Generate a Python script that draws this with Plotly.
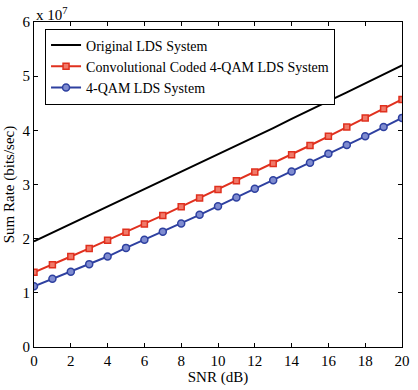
import plotly.graph_objects as go

snr = list(range(0, 21))
original = [1.95, 2.11, 2.27, 2.43, 2.59, 2.75, 2.91, 3.07, 3.23, 3.39, 3.55,
            3.71, 3.87, 4.04, 4.21, 4.38, 4.54, 4.70, 4.87, 5.04, 5.20]
conv_coded = [1.38, 1.52, 1.67, 1.82, 1.97, 2.12, 2.27, 2.43, 2.59, 2.75, 2.91,
              3.07, 3.23, 3.39, 3.55, 3.72, 3.89, 4.06, 4.23, 4.40, 4.57]
qam = [1.12, 1.26, 1.39, 1.53, 1.67, 1.83, 1.98, 2.13, 2.28, 2.44, 2.60,
       2.76, 2.92, 3.08, 3.24, 3.40, 3.57, 3.73, 3.89, 4.06, 4.23]
names = ["Original LDS System", "Convolutional Coded 4-QAM LDS System", "4-QAM LDS System"]
x_ticks = list(range(0, 21, 2))
y_ticks = list(range(0, 7))

font = "Liberation Serif"

fig = go.Figure()
fig.add_trace(go.Scatter(x=snr, y=original, mode="lines", name=names[0],
                         line=dict(color="black", width=2)))
fig.add_trace(go.Scatter(x=snr, y=conv_coded, mode="lines+markers", name=names[1],
                         line=dict(color="#e0301e", width=2),
                         marker=dict(symbol="square", size=6, color="#f07a6a",
                                     line=dict(color="#e0301e", width=1.5))))
fig.add_trace(go.Scatter(x=snr, y=qam, mode="lines+markers", name=names[2],
                         line=dict(color="#2e40a0", width=2),
                         marker=dict(symbol="circle", size=7, color="#7f8cd0",
                                     line=dict(color="#2e40a0", width=1.5))))

axis_common = dict(showline=True, linecolor="black", linewidth=1, mirror="ticks",
                   ticks="inside", ticklen=4, tickcolor="black", showgrid=False,
                   zeroline=False, tickfont=dict(family=font, size=15, color="black"))

fig.update_layout(
    width=418, height=390,
    margin=dict(l=34, r=8, t=22, b=38),
    paper_bgcolor="white", plot_bgcolor="white",
    font=dict(family=font, size=15, color="black"),
    showlegend=True,
    legend=dict(x=0.03, y=0.98, xanchor="left", yanchor="top",
                bordercolor="black", borderwidth=1, bgcolor="white",
                font=dict(family=font, size=14, color="black"),
                tracegroupgap=0, itemwidth=30),
    xaxis=dict(range=[0, 20], tickvals=x_ticks,
               title=dict(text="SNR (dB)", font=dict(family=font, size=15), standoff=2),
               **axis_common),
    yaxis=dict(range=[0, 6], tickvals=y_ticks,
               title=dict(text="Sum Rate (bits/sec)", font=dict(family=font, size=15), standoff=4),
               **axis_common),
)
fig.add_annotation(text="x 10<sup>7</sup>", xref="paper", yref="paper", x=0, y=1,
                   xanchor="left", yanchor="bottom", showarrow=False,
                   font=dict(family=font, size=15, color="black"), xshift=0, yshift=-3)

fig.write_html("out.html", config={"displayModeBar": False},
               post_script="document.body.style.margin='0';document.body.style.overflow='hidden';")
